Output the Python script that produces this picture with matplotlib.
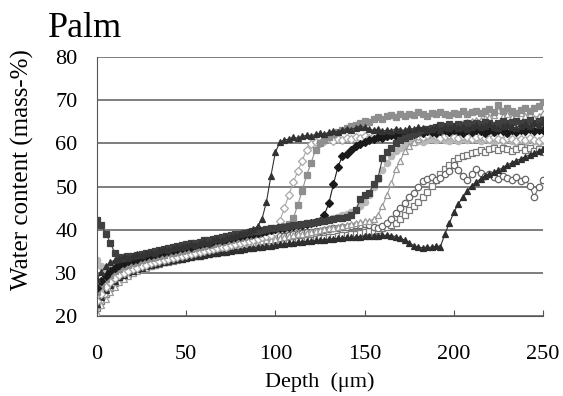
import matplotlib.pyplot as plt

plt.rcParams['font.family'] = ['Liberation Serif', 'DejaVu Serif']

depth = [0, 2.5, 5, 7.5, 10, 12.5, 15, 17.5, 20, 22.5,
         25, 27.5, 30, 32.5, 35, 37.5, 40, 42.5, 45, 47.5,
         50, 52.5, 55, 57.5, 60, 62.5, 65, 67.5, 70, 72.5,
         75, 77.5, 80, 82.5, 85, 87.5, 90, 92.5, 95, 97.5,
         100, 102.5, 105, 107.5, 110, 112.5, 115, 117.5, 120, 122.5,
         125, 127.5, 130, 132.5, 135, 137.5, 140, 142.5, 145, 147.5,
         150, 152.5, 155, 157.5, 160, 162.5, 165, 167.5, 170, 172.5,
         175, 177.5, 180, 182.5, 185, 187.5, 190, 192.5, 195, 197.5,
         200, 202.5, 205, 207.5, 210, 212.5, 215, 217.5, 220, 222.5,
         225, 227.5, 230, 232.5, 235, 237.5, 240, 242.5, 245, 247.5,
         250]

# water content (mass-%) of each depth profile
tri_dark_a = [28.5, 30.2, 31.5, 32.4, 33.0, 33.2, 33.8, 33.5, 34.0, 34.3,
              34.1, 34.6, 34.9, 34.7, 35.2, 35.5, 35.3, 35.8, 36.1, 35.9,
              36.3, 36.6, 36.4, 36.9, 37.2, 37.0, 37.5, 37.8, 37.6, 38.1,
              38.4, 38.6, 39.0, 39.3, 39.6, 40.1, 40.8, 42.5, 46.5, 52.5,
              58.0, 60.2, 60.8, 61.0, 61.4, 61.2, 61.6, 61.9, 61.7, 62.1,
              62.3, 62.1, 62.6, 62.9, 62.7, 63.1, 63.4, 63.2, 63.6, 63.9,
              63.7, 63.4, 63.0, 63.3, 62.8, 63.1, 62.9, 63.4, 63.2, 63.0,
              63.5, 63.3, 63.8, 63.6, 63.1, 63.4, 63.7, 63.2, 63.9, 63.5,
              64.0, 63.6, 63.8, 63.3, 63.9, 64.2, 63.7, 64.1, 64.4, 63.9,
              63.6, 64.0, 64.3, 63.8, 63.5, 64.1, 64.4, 64.0, 64.6, 64.3,
              65.0]
dia_light = [23.5, 25.2, 26.8, 27.9, 28.8, 29.5, 30.0, 30.4, 30.9, 31.2,
             31.6, 31.9, 32.2, 32.5, 32.7, 33.0, 33.2, 33.4, 33.7, 33.9,
             34.1, 34.3, 34.6, 34.8, 35.0, 35.2, 35.5, 35.7, 35.9, 36.1,
             36.4, 36.6, 36.9, 37.1, 37.4, 37.6, 37.9, 38.2, 38.5, 38.8,
             39.5, 42.0, 45.0, 48.0, 51.0, 53.5, 56.0, 58.5, 59.8, 60.3,
             60.0, 60.6, 60.9, 60.5, 61.1, 60.8, 61.3, 61.0, 61.5, 61.2,
             61.6, 61.3, 61.8, 61.5, 61.2, 61.7, 62.0, 61.6, 61.3, 61.8,
             61.5, 62.1, 61.7, 61.4, 61.9, 62.2, 61.6, 61.3, 61.8, 62.0,
             61.5, 61.2, 61.7, 61.4, 61.0, 61.5, 61.8, 61.2, 60.9, 61.4,
             61.1, 60.8, 61.3, 60.9, 60.6, 61.0, 60.7, 61.2, 60.8, 60.5,
             60.9]
sq_gray = [25.5, 27.0, 28.5, 29.6, 30.4, 31.0, 31.5, 31.9, 32.2, 32.6,
           32.9, 33.2, 33.5, 33.7, 34.0, 34.2, 34.5, 34.7, 34.9, 35.1,
           35.3, 35.6, 35.8, 36.0, 36.3, 36.5, 36.7, 37.0, 37.2, 37.4,
           37.7, 37.9, 38.1, 38.4, 38.6, 38.9, 39.1, 39.4, 39.6, 39.9,
           40.1, 40.5, 40.9, 41.4, 42.6, 45.7, 49.0, 52.6, 55.5, 58.5,
           60.0, 60.8, 61.5, 62.1, 62.6, 63.0, 63.5, 64.0, 64.3, 64.8,
           65.2, 65.0, 65.6, 66.0, 65.7, 66.3, 66.6, 66.2, 66.8, 66.4,
           66.9, 66.5, 67.2, 66.8, 66.4, 67.0, 66.7, 67.3, 66.9, 66.5,
           67.1, 66.8, 67.4, 66.9, 67.2, 67.6, 67.0, 67.5, 68.0, 67.3,
           68.8, 67.6, 68.2, 67.5, 67.0, 67.7, 68.1, 67.4, 68.3, 68.6,
           69.5]
dia_black = [26.5, 28.0, 29.3, 30.4, 31.2, 31.8, 32.3, 32.7, 33.0, 33.3,
             33.6, 33.9, 34.1, 34.4, 34.6, 34.9, 35.1, 35.3, 35.5, 35.7,
             35.9, 36.1, 36.4, 36.6, 36.8, 37.0, 37.3, 37.5, 37.7, 37.9,
             38.1, 38.3, 38.5, 38.7, 38.9, 39.1, 39.3, 39.5, 39.7, 39.9,
             40.1, 40.3, 40.4, 40.6, 40.8, 41.0, 41.2, 41.3, 41.5, 41.7,
             42.0, 43.5, 46.2, 50.5, 54.5, 57.0, 57.5, 58.5, 59.3, 59.8,
             60.3, 60.7, 61.0, 61.4, 61.2, 61.7, 62.0, 61.8, 62.3, 62.1,
             62.5, 62.2, 62.7, 62.4, 62.9, 62.6, 62.3, 62.8, 63.0, 62.6,
             63.1, 62.8, 62.5, 63.0, 62.7, 63.2, 62.9, 62.5, 63.0, 62.7,
             63.2, 62.8, 62.5, 63.0, 62.6, 63.1, 62.8, 63.3, 62.9, 63.2,
             63.0]
sq_dark = [42.2, 41.0, 39.0, 37.0, 34.5, 33.6, 33.5, 33.8, 34.0, 34.2,
           34.4, 34.6, 34.9, 35.1, 35.3, 35.5, 35.7, 36.0, 36.2, 36.4,
           36.6, 36.8, 37.0, 37.2, 37.5, 37.7, 37.9, 38.1, 38.3, 38.5,
           38.7, 38.9, 39.1, 39.3, 39.5, 39.6, 39.8, 40.0, 40.1, 40.3,
           40.4, 40.6, 40.7, 40.9, 41.0, 41.2, 41.3, 41.5, 41.6, 41.8,
           41.9, 42.1, 42.2, 42.4, 42.6, 42.8, 43.0, 43.3, 44.5, 47.0,
           48.0, 48.5, 50.5, 52.0, 56.5, 58.0, 59.0, 60.0, 60.8, 61.3,
           61.8, 62.2, 62.6, 63.0, 63.3, 63.6, 63.9, 64.2, 64.0, 64.4,
           64.1, 64.5, 64.2, 64.7, 64.4, 64.8, 64.5, 65.0, 64.7, 64.3,
           64.8, 65.1, 64.6, 64.9, 65.2, 64.7, 65.0, 65.3, 64.8, 65.2,
           65.5]
tri_open = [20.8, 22.5, 24.0, 25.5, 26.8, 27.8, 28.6, 29.3, 29.9, 30.4,
            30.8, 31.2, 31.6, 31.9, 32.2, 32.5, 32.8, 33.0, 33.3, 33.5,
            33.8, 34.0, 34.2, 34.4, 34.7, 34.9, 35.1, 35.3, 35.5, 35.7,
            35.9, 36.1, 36.3, 36.5, 36.7, 36.9, 37.1, 37.3, 37.5, 37.7,
            37.9, 38.1, 38.3, 38.5, 38.7, 38.9, 39.1, 39.3, 39.5, 39.7,
            39.9, 40.1, 40.3, 40.5, 40.7, 40.9, 41.1, 41.3, 41.5, 41.7,
            41.9, 42.1, 42.4, 43.5, 45.5, 48.0, 50.8, 54.0, 56.0, 58.2,
            59.5, 60.3, 61.0, 61.5, 62.0, 62.3, 62.7, 63.0, 63.3, 63.6,
            64.0, 64.3, 64.6, 64.9, 65.2, 65.5, 65.3, 65.8, 66.1, 66.5,
            67.8, 66.4, 66.9, 66.2, 66.6, 67.0, 66.3, 66.8, 65.9, 66.4,
            67.0]
circ_open = [24.5, 26.0, 27.5, 28.6, 29.5, 30.2, 30.8, 31.3, 31.7, 32.0,
             32.3, 32.6, 32.9, 33.1, 33.4, 33.6, 33.8, 34.0, 34.2, 34.4,
             34.6, 34.8, 35.0, 35.2, 35.4, 35.6, 35.8, 36.0, 36.2, 36.4,
             36.6, 36.8, 37.0, 37.1, 37.3, 37.5, 37.6, 37.8, 38.0, 38.1,
             38.3, 38.5, 38.6, 38.8, 38.9, 39.1, 39.2, 39.4, 39.5, 39.7,
             39.8, 40.0, 40.1, 40.3, 40.4, 40.6, 40.7, 40.9, 41.0, 41.2,
             41.3, 41.0, 40.6, 40.4, 40.8, 41.5, 42.5, 43.8, 45.0, 46.2,
             47.5, 48.5, 50.0, 51.2, 51.8, 52.3, 51.6, 52.0, 52.8, 53.5,
             55.0, 53.8, 52.5, 51.5, 52.8, 54.0, 53.2, 52.5, 53.0, 52.2,
             51.8, 52.5, 52.0, 51.5, 52.2, 51.3, 51.8, 50.2, 47.5, 49.8,
             51.5]
tri_dark_b = [22.8, 24.5, 26.0, 27.2, 28.2, 29.0, 29.6, 30.1, 30.5, 30.9,
              31.2, 31.5, 31.8, 32.0, 32.3, 32.5, 32.7, 32.9, 33.1, 33.3,
              33.5, 33.7, 33.8, 34.0, 34.2, 34.3, 34.5, 34.6, 34.8, 34.9,
              35.1, 35.2, 35.4, 35.5, 35.7, 35.8, 35.9, 36.1, 36.2, 36.3,
              36.5, 36.6, 36.7, 36.8, 37.0, 37.1, 37.2, 37.3, 37.4, 37.5,
              37.6, 37.7, 37.8, 37.9, 38.0, 38.1, 38.2, 38.2, 38.3, 38.4,
              38.5, 38.5, 38.6, 38.6, 38.7, 38.7, 38.6, 38.4, 38.0, 37.6,
              37.0, 36.3, 36.0, 35.8, 36.0, 35.9, 36.2, 36.1, 39.0, 41.5,
              44.0, 46.0, 47.5, 49.0, 50.2, 51.0, 51.8, 52.5, 52.9, 53.3,
              53.8, 54.4, 55.0, 55.5, 56.0, 56.4, 56.9, 57.3, 57.8, 58.2,
              58.6]
sq_open = [21.8, 23.5, 25.2, 26.5, 27.6, 28.5, 29.2, 29.8, 30.3, 30.7,
           31.0, 31.3, 31.6, 31.9, 32.1, 32.4, 32.6, 32.8, 33.0, 33.2,
           33.4, 33.6, 33.8, 34.0, 34.2, 34.3, 34.5, 34.7, 34.8, 35.0,
           35.2, 35.3, 35.5, 35.6, 35.8, 35.9, 36.1, 36.2, 36.4, 36.5,
           36.6, 36.8, 36.9, 37.0, 37.2, 37.3, 37.4, 37.6, 37.7, 37.8,
           38.0, 38.1, 38.2, 38.4, 38.5, 38.7, 38.8, 39.0, 39.1, 39.3,
           39.4, 39.6, 39.8, 40.0, 40.3, 40.6, 41.0, 41.6, 42.5, 43.5,
           44.5, 45.5, 46.3, 47.5, 48.8, 50.2, 51.5, 52.8, 54.0, 55.0,
           55.8, 56.5, 57.0, 57.4, 57.8, 58.1, 58.4, 58.0, 58.6, 58.9,
           58.5, 59.0, 58.7, 58.2, 58.8, 59.1, 58.4, 58.9, 58.3, 58.7,
           58.0]
circ_light = [33.0, 31.5, 30.8, 31.0, 31.4, 31.8, 32.1, 32.4, 32.7, 33.0,
              33.2, 33.5, 33.7, 34.0, 34.2, 34.4, 34.7, 34.9, 35.1, 35.3,
              35.5, 35.7, 36.0, 36.2, 36.4, 36.6, 36.8, 37.0, 37.2, 37.4,
              37.6, 37.8, 38.0, 38.2, 38.5, 38.7, 38.9, 39.1, 39.3, 39.6,
              39.8, 40.0, 40.2, 40.5, 40.7, 40.9, 41.1, 41.4, 41.6, 41.8,
              42.0, 42.3, 42.5, 42.8, 43.0, 43.3, 43.6, 44.0, 44.6, 45.4,
              46.5, 48.0, 49.8, 51.8, 53.8, 55.5, 57.0, 58.2, 59.0, 59.6,
              60.0, 60.3, 60.6, 60.4, 60.8, 61.0, 60.7, 61.1, 60.8, 60.5,
              60.9, 60.6, 61.0, 60.7, 61.2, 60.9, 60.5, 61.0, 60.7, 60.4,
              60.8, 60.5, 60.9, 60.6, 60.3, 60.7, 60.4, 60.9, 60.6, 60.3,
              60.5]

series = [
    (circ_light, 'o', '#b8b8b8', True),
    (sq_open, 's', '#7a7a7a', False),
    (circ_open, 'o', '#666666', False),
    (tri_open, '^', '#9a9a9a', False),
    (tri_dark_b, '^', '#2e2e2e', True),
    (dia_light, 'D', '#a8a8a8', False),
    (sq_gray, 's', '#8e8e8e', True),
    (dia_black, 'D', '#1a1a1a', True),
    (sq_dark, 's', '#404040', True),
    (tri_dark_a, '^', '#333333', True),
]

fig = plt.figure(figsize=(5.63, 3.96), dpi=100)
ax = fig.add_axes([0.1723, 0.202, 0.7922, 0.654])

for vals, mk, col, filled in series:
    ax.plot(depth, vals, color=col, lw=0.8, marker=mk, ms=4.6 if mk != 'D' else 3.9,
            markerfacecolor=col if filled else 'white', markeredgecolor=col, mew=0.9)

ax.set_xlim(0, 250)
ax.set_ylim(20, 80)
ax.set_yticks(range(20, 81, 10))
ax.set_xticks(range(0, 251, 50))
ax.yaxis.grid(True, color='#5a5a5a', lw=1.1)
ax.set_axisbelow(True)
for s in ['top', 'right']:
    ax.spines[s].set_visible(False)
ax.spines['left'].set_color('#555555')
ax.spines['bottom'].set_color('#555555')
ax.tick_params(axis='y', length=0, pad=14, labelsize=16)
ax.tick_params(axis='x', direction='in', length=4, color='#555555', pad=21, labelsize=16)

fig.text(0.568, 0.022, 'Depth  (μm)', fontsize=16, ha='center', va='baseline')
fig.text(0.039, 0.571, 'Water content (mass-%)', fontsize=18, rotation=90,
         ha='center', va='center')
fig.text(0.085, 0.907, 'Palm', fontsize=26, ha='left', va='baseline')

fig.savefig('out.png', dpi=100)
